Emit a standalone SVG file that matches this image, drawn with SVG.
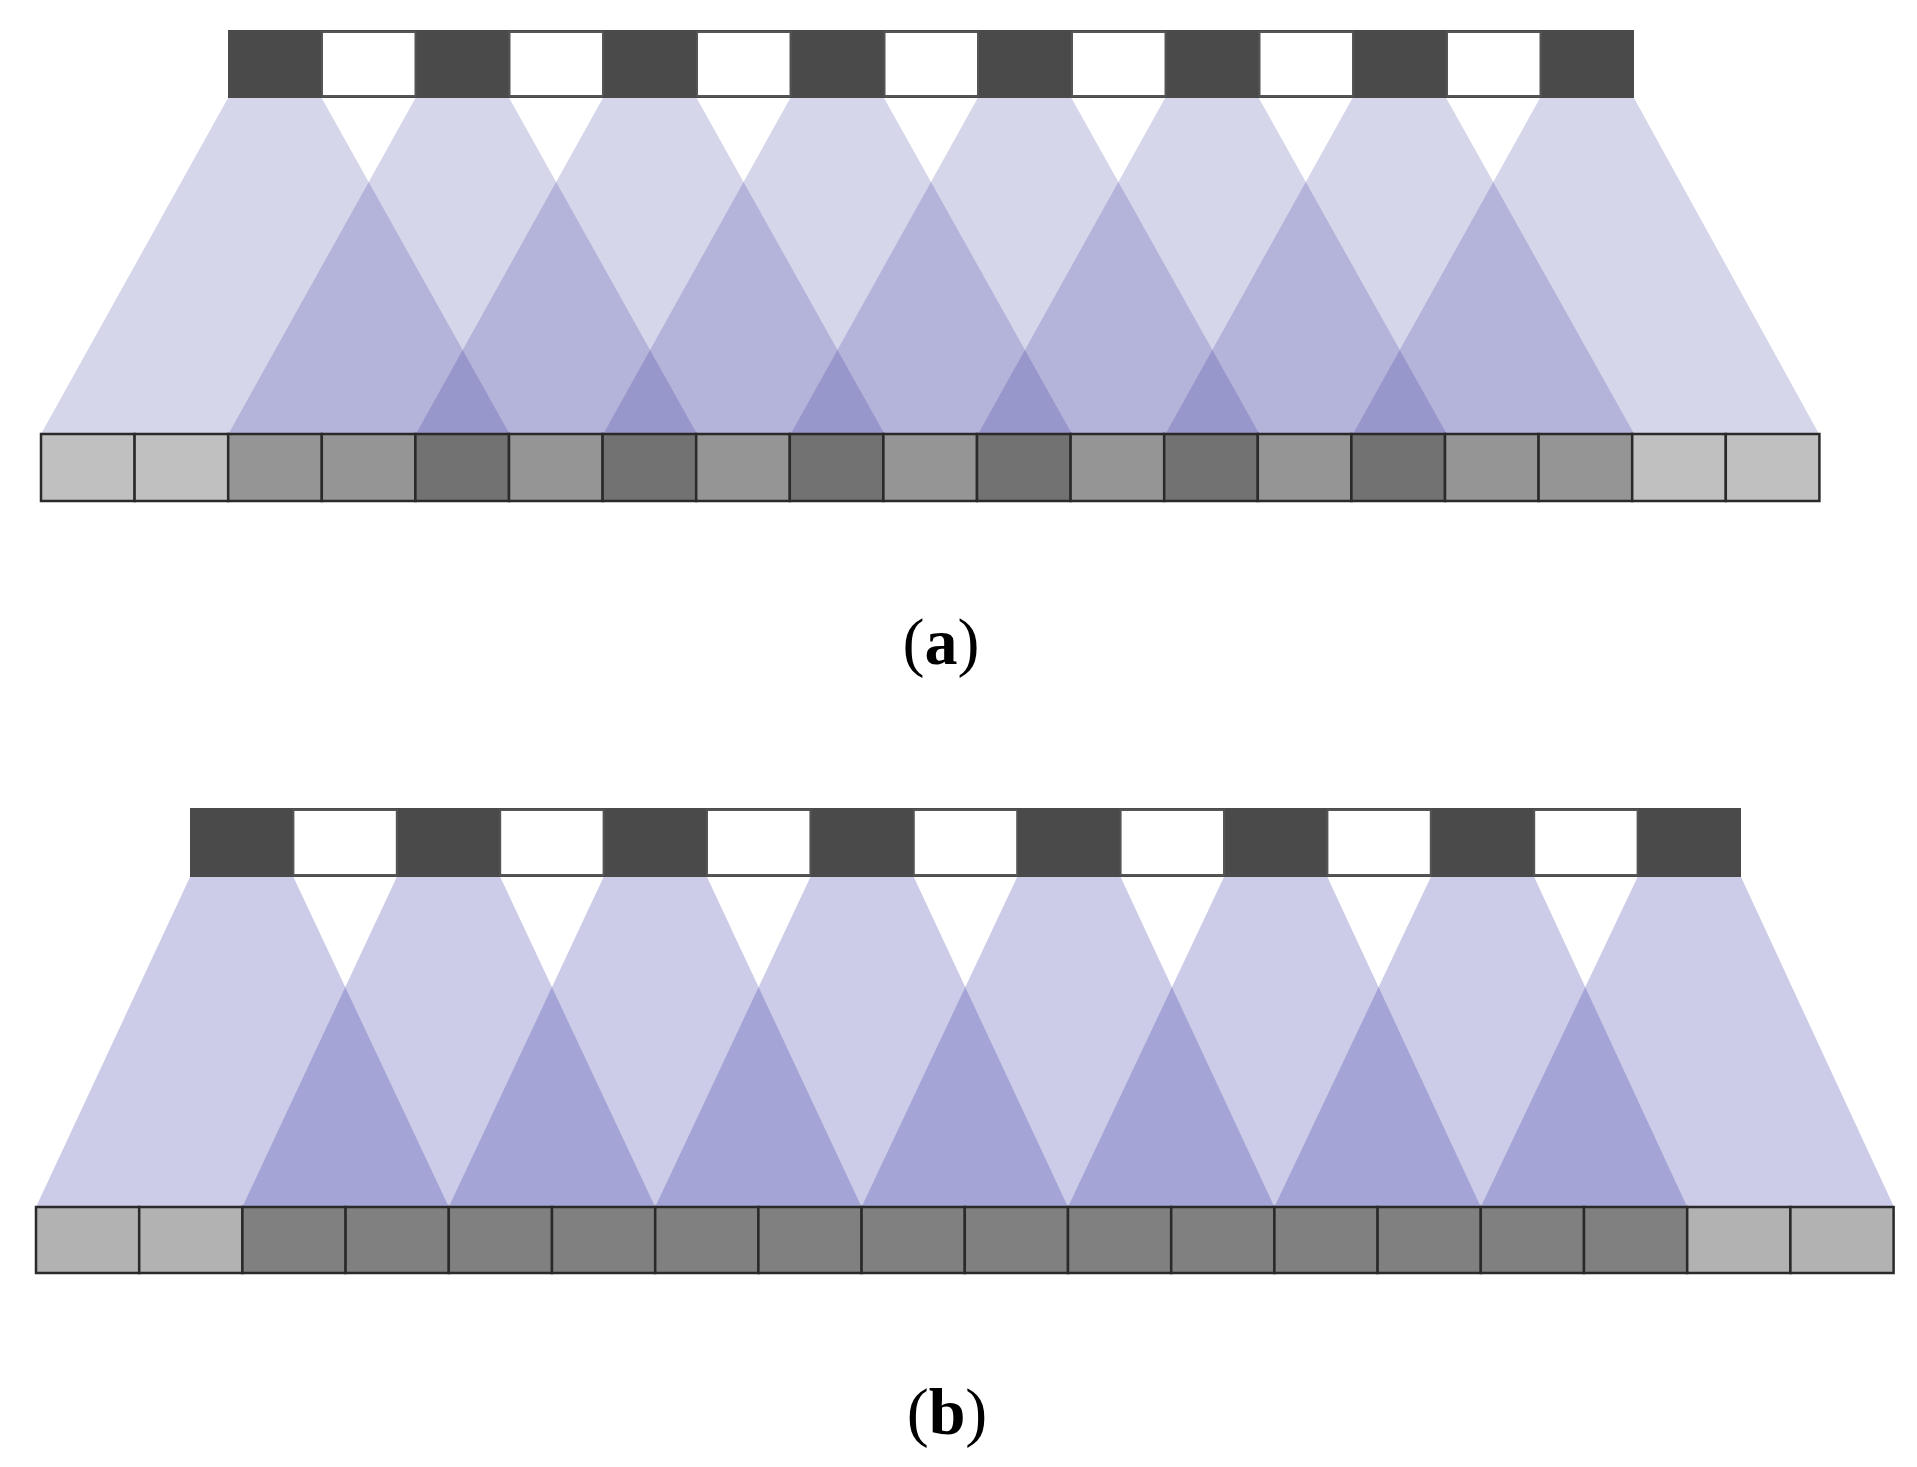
<svg xmlns="http://www.w3.org/2000/svg" width="1917" height="1467" viewBox="0 0 1917 1467">
<style>
.bk{fill:#4a4a4a}
.wh{fill:#fff;stroke:#555;stroke-width:2}
.ba{fill:rgb(14,14,137);fill-opacity:0.17}
.bb{fill:rgb(19,19,150);fill-opacity:0.215}
.cell{stroke:#2a2a2a;stroke-width:2.5}
.lbl{font-family:"Liberation Serif",serif;font-size:66px;text-anchor:middle}
</style>
<rect width="1917" height="1467" fill="#fff"/>
<g id="beams-a">
<polygon class="ba" points="228,98 321.7,98 509.6,434 41,434"/>
<polygon class="ba" points="415.5,98 509.2,98 697,434 228.4,434"/>
<polygon class="ba" points="602.9,98 696.6,98 884.5,434 415.9,434"/>
<polygon class="ba" points="790.3,98 884,98 1072,434 603.3,434"/>
<polygon class="ba" points="977.7,98 1071.4,98 1259.4,434 790.7,434"/>
<polygon class="ba" points="1165.1,98 1258.8,98 1446.8,434 978.1,434"/>
<polygon class="ba" points="1352.5,98 1446.2,98 1634.2,434 1165.5,434"/>
<polygon class="ba" points="1540,98 1634,98 1819,434 1353,434"/>
</g>
<g id="mask-a">
<rect class="bk" x="228" y="30" width="1406" height="68"/>
<rect class="wh" x="322" y="32" width="93.5" height="64"/>
<rect class="wh" x="509.5" y="32" width="93.5" height="64"/>
<rect class="wh" x="697" y="32" width="93.5" height="64"/>
<rect class="wh" x="884.5" y="32" width="93.5" height="64"/>
<rect class="wh" x="1072" y="32" width="93.5" height="64"/>
<rect class="wh" x="1259.5" y="32" width="93.5" height="64"/>
<rect class="wh" x="1447" y="32" width="93.5" height="64"/>
</g>
<g id="sensor-a" class="cell">
<rect x="41" y="434" width="93.6" height="67" fill="#c0c0c0"/>
<rect x="134.6" y="434" width="93.6" height="67" fill="#c0c0c0"/>
<rect x="228.2" y="434" width="93.6" height="67" fill="#959595"/>
<rect x="321.8" y="434" width="93.6" height="67" fill="#959595"/>
<rect x="415.4" y="434" width="93.6" height="67" fill="#727272"/>
<rect x="509" y="434" width="93.6" height="67" fill="#959595"/>
<rect x="602.6" y="434" width="93.6" height="67" fill="#727272"/>
<rect x="696.2" y="434" width="93.6" height="67" fill="#959595"/>
<rect x="789.8" y="434" width="93.6" height="67" fill="#727272"/>
<rect x="883.4" y="434" width="93.6" height="67" fill="#959595"/>
<rect x="977" y="434" width="93.6" height="67" fill="#727272"/>
<rect x="1070.6" y="434" width="93.6" height="67" fill="#959595"/>
<rect x="1164.2" y="434" width="93.6" height="67" fill="#727272"/>
<rect x="1257.8" y="434" width="93.6" height="67" fill="#959595"/>
<rect x="1351.4" y="434" width="93.6" height="67" fill="#727272"/>
<rect x="1445" y="434" width="93.6" height="67" fill="#959595"/>
<rect x="1538.6" y="434" width="93.6" height="67" fill="#959595"/>
<rect x="1632.2" y="434" width="93.6" height="67" fill="#c0c0c0"/>
<rect x="1725.8" y="434" width="93.6" height="67" fill="#c0c0c0"/>
</g>
<text id="label-a" class="lbl" x="941" y="664">(<tspan font-weight="bold">a</tspan>)</text>

<g id="beams-b">
<polygon class="bb" points="190,877 293.4,877 448.8,1207 36,1207"/>
<polygon class="bb" points="396.8,877 500.2,877 655.2,1207 242.4,1207"/>
<polygon class="bb" points="603.6,877 707,877 861.6,1207 448.8,1207"/>
<polygon class="bb" points="810.4,877 913.8,877 1068,1207 655.2,1207"/>
<polygon class="bb" points="1017.2,877 1120.6,877 1274.4,1207 861.6,1207"/>
<polygon class="bb" points="1224,877 1327.4,877 1480.8,1207 1068,1207"/>
<polygon class="bb" points="1430.8,877 1534.2,877 1687.2,1207 1274.4,1207"/>
<polygon class="bb" points="1637.6,877 1741,877 1894,1207 1480.8,1207"/>
</g>
<g id="mask-b">
<rect class="bk" x="190" y="808" width="1551" height="69"/>
<rect class="wh" x="293.4" y="810" width="103.4" height="65"/>
<rect class="wh" x="500.2" y="810" width="103.4" height="65"/>
<rect class="wh" x="707" y="810" width="103.4" height="65"/>
<rect class="wh" x="913.8" y="810" width="103.4" height="65"/>
<rect class="wh" x="1120.6" y="810" width="103.4" height="65"/>
<rect class="wh" x="1327.4" y="810" width="103.4" height="65"/>
<rect class="wh" x="1534.2" y="810" width="103.4" height="65"/>
</g>
<g id="sensor-b" class="cell">
<rect x="36" y="1207" width="103.2" height="66" fill="#b2b2b2"/>
<rect x="139.2" y="1207" width="103.2" height="66" fill="#b2b2b2"/>
<rect x="242.4" y="1207" width="103.2" height="66" fill="#808080"/>
<rect x="345.6" y="1207" width="103.2" height="66" fill="#808080"/>
<rect x="448.8" y="1207" width="103.2" height="66" fill="#808080"/>
<rect x="552" y="1207" width="103.2" height="66" fill="#808080"/>
<rect x="655.2" y="1207" width="103.2" height="66" fill="#808080"/>
<rect x="758.4" y="1207" width="103.2" height="66" fill="#808080"/>
<rect x="861.6" y="1207" width="103.2" height="66" fill="#808080"/>
<rect x="964.8" y="1207" width="103.2" height="66" fill="#808080"/>
<rect x="1068" y="1207" width="103.2" height="66" fill="#808080"/>
<rect x="1171.2" y="1207" width="103.2" height="66" fill="#808080"/>
<rect x="1274.4" y="1207" width="103.2" height="66" fill="#808080"/>
<rect x="1377.6" y="1207" width="103.2" height="66" fill="#808080"/>
<rect x="1480.8" y="1207" width="103.2" height="66" fill="#808080"/>
<rect x="1584" y="1207" width="103.2" height="66" fill="#808080"/>
<rect x="1687.2" y="1207" width="103.2" height="66" fill="#b2b2b2"/>
<rect x="1790.4" y="1207" width="103.2" height="66" fill="#b2b2b2"/>
</g>
<text id="label-b" class="lbl" x="947" y="1434">(<tspan font-weight="bold">b</tspan>)</text>
</svg>
